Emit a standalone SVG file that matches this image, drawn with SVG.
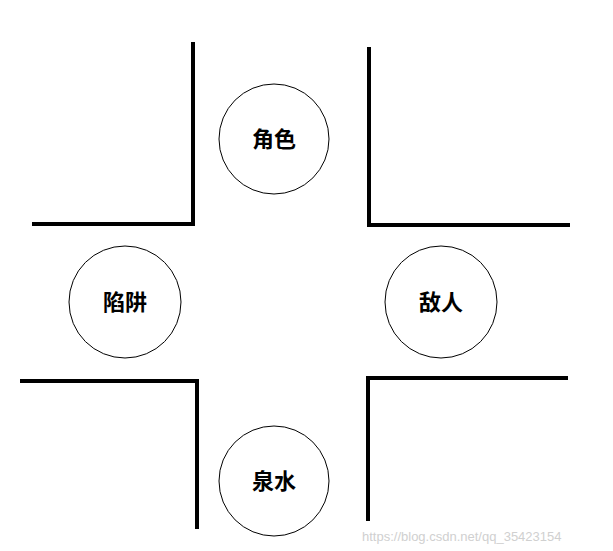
<svg xmlns="http://www.w3.org/2000/svg" width="613" height="551" viewBox="0 0 613 551">
<style>
.w{fill:none;stroke:#000;stroke-width:4}
.c{fill:#fff;stroke:#000;stroke-width:1}
.t{font-family:"Noto Sans CJK SC",sans-serif;font-size:22px;font-weight:bold;text-anchor:middle;fill:#000}
</style>
<rect width="613" height="551" fill="#fff"/>
<g id="connectors">
<polyline class="w" points="193,42 193,224 32,224"/>
<polyline class="w" points="369,47 369,225 570,225"/>
<polyline class="w" points="20,381 197,381 197,529"/>
<polyline class="w" points="366,378 568,378"/>
<polyline class="w" points="368,378 368,521"/>
</g>
<g id="role"><circle class="c" cx="274" cy="139" r="55"/><text class="t" x="274" y="147">角色</text></g>
<g id="trap"><circle class="c" cx="125" cy="302" r="56"/><text class="t" x="125" y="310">陷阱</text></g>
<g id="enemy"><circle class="c" cx="441" cy="302" r="56"/><text class="t" x="441" y="310">敌人</text></g>
<g id="spring"><circle class="c" cx="274" cy="481" r="55"/><text class="t" x="274" y="489">泉水</text></g>
<text x="362" y="541" font-family="Liberation Sans,sans-serif" font-size="13" fill="#d0d0d0">https://blog.csdn.net/qq_35423154</text>
</svg>
